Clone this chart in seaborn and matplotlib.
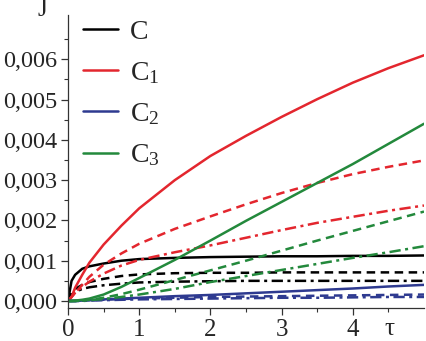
import numpy as np
import pandas as pd
import matplotlib
matplotlib.use("Agg")
import matplotlib.pyplot as plt
import seaborn as sns

# ---- data ----
tau = [0, 0.05, 0.1, 0.2, 0.3, 0.5, 0.75, 1, 1.5, 2, 2.5, 3, 3.5, 4, 4.5, 5]

c_solid   = [0, 0.0005, 0.00065, 0.0008, 0.00086, 0.00093, 0.001, 0.00104, 0.00107, 0.00109, 0.0011, 0.00111, 0.00111, 0.00112, 0.00112, 0.00113]
c_dash    = [0, 0.0002, 0.0003, 0.0004, 0.00047, 0.00055, 0.00062, 0.00066, 0.00069, 0.0007, 0.0007, 0.00071, 0.00071, 0.00071, 0.00071, 0.00071]
c_dashdot = [0, 0.00015, 0.00022, 0.0003, 0.00034, 0.00039, 0.00043, 0.00046, 0.00048, 0.00049, 0.0005, 0.0005, 0.0005, 0.0005, 0.0005, 0.0005]

c1_solid   = [0, 0.0001, 0.00033, 0.00065, 0.00095, 0.0014, 0.00187, 0.0023, 0.003, 0.0036, 0.0041, 0.00457, 0.00501, 0.00542, 0.00578, 0.0061]
c1_dash    = [0, 0.0001, 0.0002, 0.0004, 0.0006, 0.0009, 0.00118, 0.00142, 0.00179, 0.0021, 0.0024, 0.00268, 0.00293, 0.00315, 0.00333, 0.00349]
c1_dashdot = [0, 0.0001, 0.0002, 0.00035, 0.00048, 0.00068, 0.00088, 0.00102, 0.00121, 0.00138, 0.00157, 0.00176, 0.00194, 0.00209, 0.00224, 0.00237]

c2_solid   = [0, 0, 0, 0.00001, 0.00002, 0.00004, 0.00006, 0.00008, 0.00012, 0.00015, 0.00019, 0.00023, 0.00027, 0.00031, 0.00036, 0.0004]
c2_dash    = [0, 0, 0, 0.00001, 0.00002, 0.00003, 0.00005, 0.00006, 0.00008, 0.0001, 0.00011, 0.00012, 0.00013, 0.00014, 0.00015, 0.00016]
c2_dashdot = [0, 0, 0, 0, 0.00001, 0.00002, 0.00003, 0.00004, 0.00005, 0.00006, 0.00007, 0.00008, 0.00008, 0.00009, 0.0001, 0.0001]

c3_solid   = [0, 0, 0.00001, 0.00003, 0.00006, 0.00016, 0.00035, 0.00057, 0.00102, 0.0015, 0.00199, 0.00246, 0.00293, 0.0034, 0.0039, 0.0044]
c3_dash    = [0, 0, 0, 0.00001, 0.00003, 0.00008, 0.00017, 0.00028, 0.00052, 0.00076, 0.001, 0.00125, 0.0015, 0.00174, 0.00198, 0.00222]
c3_dashdot = [0, 0, 0, 0.00001, 0.00002, 0.00005, 0.0001, 0.00016, 0.0003, 0.00047, 0.00062, 0.00077, 0.00092, 0.00107, 0.00121, 0.00136]

legend_labels = ["C", r"$\mathrm{C}_1$", r"$\mathrm{C}_2$", r"$\mathrm{C}_3$"]
y_ticks = [0, 0.001, 0.002, 0.003, 0.004, 0.005, 0.006]
y_tick_labels = ["0,000", "0,001", "0,002", "0,003", "0,004", "0,005", "0,006"]
x_ticks = [0, 1, 2, 3, 4]
x_tick_labels = ["0", "1", "2", "3", "4"]

# ---- styling ----
sns.set_style("ticks")
plt.rcParams["font.family"] = "serif"
plt.rcParams["font.serif"] = ["Liberation Serif", "Times New Roman", "DejaVu Serif"]
plt.rcParams["mathtext.fontset"] = "custom"
plt.rcParams["mathtext.rm"] = "Liberation Serif"
plt.rcParams["mathtext.it"] = "Liberation Serif:italic"

BLACK = "#000000"
RED = "#e3262e"
BLUE = "#2e3a90"
GREEN = "#23893c"
SOLID = "-"
DASH = (0, (3.4, 2.2))
DASHDOT = (0, (4.5, 1.8, 1.2, 1.8))

series = [
    (c_solid, BLACK, SOLID), (c_dash, BLACK, DASH), (c_dashdot, BLACK, DASHDOT),
    (c1_solid, RED, SOLID), (c1_dash, RED, DASH), (c1_dashdot, RED, DASHDOT),
    (c2_solid, BLUE, SOLID), (c2_dash, BLUE, DASH), (c2_dashdot, BLUE, DASHDOT),
    (c3_solid, GREEN, SOLID), (c3_dash, GREEN, DASH), (c3_dashdot, GREEN, DASHDOT),
]

fig = plt.figure(figsize=(4.26, 3.41), dpi=100)
ax = fig.add_axes([68 / 426, 33 / 341, 356 / 426, 293 / 341])

for vals, col, ls in series:
    df = pd.DataFrame({"tau": tau, "J": vals})
    sns.lineplot(data=df, x="tau", y="J", ax=ax, color=col, linestyle=ls,
                 linewidth=1.8, estimator=None, sort=False)

ax.set_xlim(0, 5.0)
ax.set_ylim(-0.000174, 0.0071)
ax.set_xticks(x_ticks)
ax.set_xticklabels(x_tick_labels)
ax.set_yticks(y_ticks)
ax.set_yticklabels(y_tick_labels)
ax.set_xticks([0.5, 1.5, 2.5, 3.5, 4.5], minor=True)
ax.set_yticks([0.0005, 0.0015, 0.0025, 0.0035, 0.0045, 0.0055, 0.0065], minor=True)
ax.tick_params(axis="both", which="major", direction="out", length=5, width=0.9,
               labelsize=17.5, pad=3, color="#333333")
ax.tick_params(axis="x", which="major", labelsize=18, pad=3)
ax.tick_params(axis="both", which="minor", direction="out", length=3, width=0.8, color="#333333")
ax.set_xlabel("")
ax.set_ylabel("")
for s in ["top", "right"]:
    ax.spines[s].set_visible(False)
for s in ["left", "bottom"]:
    ax.spines[s].set_linewidth(0.9)
    ax.spines[s].set_color("#333333")

# axis titles
fig.text(389 / 426, 1 - 329 / 341, "τ", ha="center", va="center", fontsize=18)
fig.text(42 / 426, 1 - 10 / 341, "J", ha="center", va="center", fontsize=18)

handles = [plt.Line2D([], [], color=c, linewidth=1.8) for c in [BLACK, RED, BLUE, GREEN]]
leg = ax.legend(handles, legend_labels, loc="upper left",
                bbox_to_anchor=(15 / 356, 0.985), frameon=False, fontsize=20,
                handlelength=1.25, handletextpad=0.45, labelspacing=0.55,
                borderpad=0, borderaxespad=0)

fig.savefig("out.png", dpi=100)
